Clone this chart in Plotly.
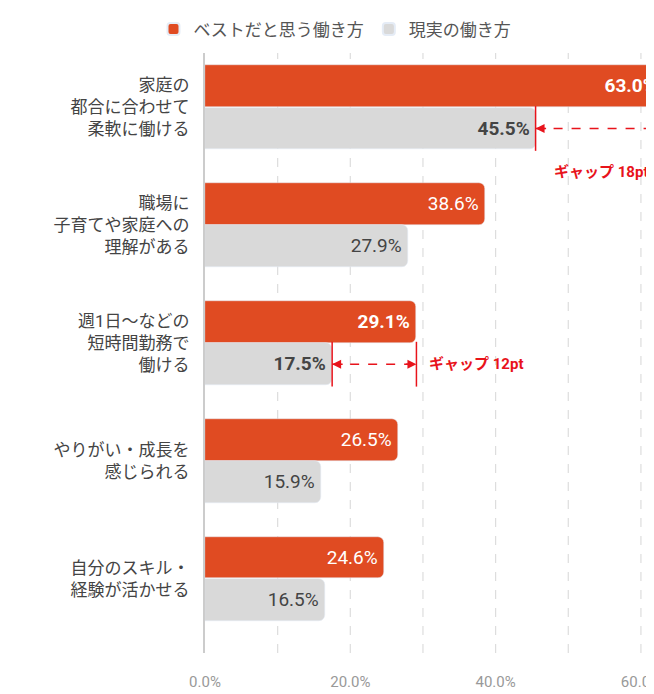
import plotly.graph_objects as go

categories = ["家庭の<br>都合に合わせて<br>柔軟に働ける",
              "職場に<br>子育てや家庭への<br>理解がある",
              "週1日〜などの<br>短時間勤務で<br>働ける",
              "やりがい・成長を<br>感じられる",
              "自分のスキル・<br>経験が活かせる"]
best = [63.0, 38.6, 29.1, 26.5, 24.6]
actual = [45.5, 27.9, 17.5, 15.9, 16.5]
bold = [True, False, True, False, False]
gaps = [(0, "ギャップ 18pt"), (2, "ギャップ 12pt")]

ORANGE = "#e04b22"
GRAY = "#d9d9d9"
RED = "#e8131b"
FONT = "Roboto, Noto Sans CJK JP"

pos = list(range(len(categories)))
off = 0.18


def label(v, b):
    s = f"{v:.1f}%"
    return f"<b>{s}</b>" if b else s


fig = go.Figure()
fig.add_trace(go.Bar(
    y=[p - off for p in pos], x=best, orientation="h", width=0.355,
    marker_color=ORANGE, name="ベストだと思う働き方",
    text=[label(v, b) for v, b in zip(best, bold)], textposition="inside",
    insidetextanchor="end", textfont=dict(color="white", size=19),
))
fig.add_trace(go.Bar(
    y=[p + off for p in pos], x=actual, orientation="h", width=0.355,
    marker_color=GRAY, name="現実の働き方",
    text=[label(v, b) for v, b in zip(actual, bold)], textposition="inside",
    insidetextanchor="end", textfont=dict(color="#444", size=19),
))

# gap markers
for i, txt in gaps:
    y = i + off
    x0, x1 = actual[i], best[i]
    fig.add_shape(type="line", x0=x0, x1=x1, y0=y, y1=y,
                  line=dict(color=RED, width=1.5, dash="dash"))
    for x in (x0, x1):
        fig.add_shape(type="line", x0=x, x1=x, y0=y - 0.19, y1=y + 0.19,
                      line=dict(color=RED, width=1.5))
    fig.add_annotation(x=x0, y=y, ax=12, ay=0, showarrow=True, arrowhead=2,
                       arrowsize=1.2, arrowwidth=1.5, arrowcolor=RED, text="")
    fig.add_annotation(x=x1, y=y, ax=-12, ay=0, showarrow=True, arrowhead=2,
                       arrowsize=1.2, arrowwidth=1.5, arrowcolor=RED, text="")
    if i == 0:
        fig.add_annotation(x=54.5, y=i + 0.55, text=f"<b>{txt}</b>",
                           showarrow=False, font=dict(color=RED, size=15))
    else:
        fig.add_annotation(x=x1 + 1.5, y=y, text=f"<b>{txt}</b>", xanchor="left",
                           showarrow=False, font=dict(color=RED, size=15))

fig.update_layout(
    width=654, height=694,
    margin=dict(l=197, r=0, t=45, b=49, autoexpand=False),
    paper_bgcolor="white", plot_bgcolor="white",
    font=dict(family=FONT, color="#444"),
    barmode="overlay", bargap=0, barcornerradius=6,
    legend=dict(orientation="h", x=0.5, xanchor="center", xref="container",
                y=0.995, yanchor="top", yref="container",
                font=dict(size=17, color="#555"), itemsizing="constant"),
    uniformtext=dict(minsize=10, mode="show"),
)
fig.update_xaxes(range=[0, 62.9], tickvals=[0, 20, 40, 60],
                 ticktext=["0.0%", "20.0%", "40.0%", "60.0%"],
                 tickfont=dict(size=15, color="#999"), automargin=False,
                 showgrid=False, zeroline=False, ticks="", ticklabelstandoff=18)
for g in range(10, 70, 10):
    fig.add_shape(type="line", x0=g, x1=g, y0=0, y1=1, yref="paper",
                  line=dict(color="#ddd", width=1.2, dash="dash"), layer="below")
fig.update_yaxes(range=[4.63, -0.46], tickvals=pos, ticktext=categories,
                 tickfont=dict(size=17, color="#444"), showgrid=False,
                 zeroline=False, showline=True, linecolor="#ccc", linewidth=2,
                 ticks="", ticklabelstandoff=10, automargin=False)

fig.write_html("out.html")
